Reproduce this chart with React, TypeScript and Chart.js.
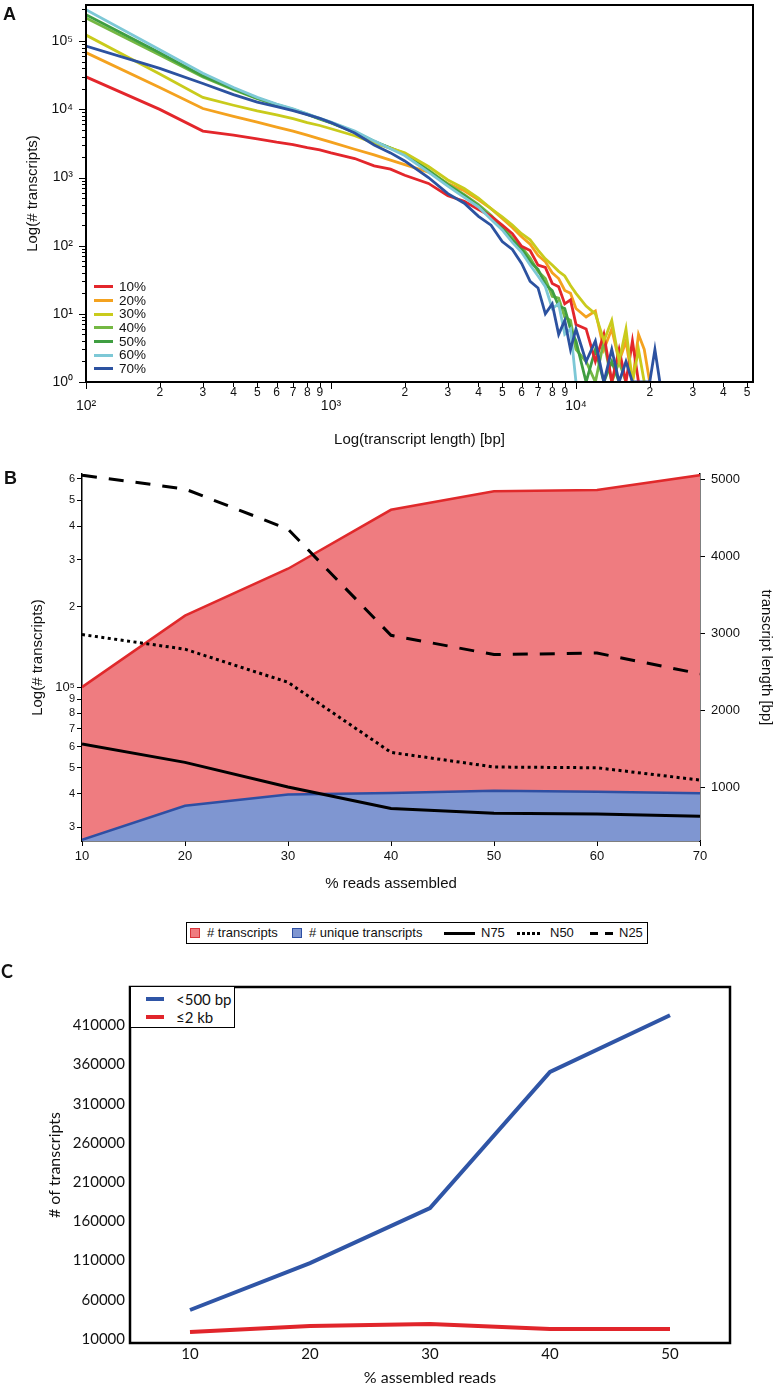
import { useEffect, useRef } from 'react';
import { Chart, registerables } from 'chart.js';

Chart.register(...registerables);

const SANS = "'Liberation Sans', Arial, Helvetica, sans-serif";
const HUM = "Lato, 'Open Sans', 'Liberation Sans', sans-serif";
const INK = '#111';

// ---------------- Panel A : length distribution ----------------
const lengthsBp = [
  100, 200, 300, 400, 500, 600, 700, 800, 900, 1000,
  1250, 1500, 1750, 2000, 2500, 3000, 3500, 4000, 4500, 5000,
  5500, 6000, 6500, 7000, 7500, 8000, 8500, 9000, 9500, 10000,
  11000, 12000, 13000, 14000, 15000, 16000, 17000, 18000, 19000, 20000,
  21000, 22000,
];
const count10 = [
  30000, 10000, 4800, 4200, 3700, 3300, 3050, 2750, 2550, 2300,
  1900, 1480, 1330, 1080, 820, 540, 450, 340, 270, 200,
  150, 98, 85, 52, 48, 28, 25, 14, 16, 7,
  6, 2, 5, 1, 3, 1, 4, 1, null, null,
  null, null,
];
const count20 = [
  68000, 21000, 10300, 7900, 6500, 5500, 4800, 4200, 3700, 3300,
  2600, 2150, 1800, 1550, 1200, 820, 640, 470, 350, 250,
  185, 135, 105, 72, 58, 40, 33, 22, 20, 12,
  9, 11, 3, 6, 2, 4, 1, 5, 3, 1,
  null, null,
];
const count30 = [
  123000, 33000, 15000, 11500, 9500, 8300, 7300, 6400, 5800, 5200,
  4100, 3200, 2700, 2300, 1450, 920, 690, 500, 350, 265,
  200, 150, 122, 86, 64, 52, 42, 36, 26, 20,
  13, 10, 4, 8, 2, 6, 1, 3, 1, null,
  null, null,
];
const count40 = [
  220000, 63000, 30000, 19500, 14300, 11600, 9800, 8400, 7200, 6300,
  4600, 3350, 2700, 2250, 1300, 800, 560, 400, 280, 190,
  130, 95, 66, 42, 33, 18, 17, 9, 8, 3,
  2, 1, 4, 1, 2, 1, null, null, null, null,
  null, null,
];
const count50 = [
  245000, 68000, 31000, 20000, 14600, 11800, 10000, 8500, 7300, 6400,
  4700, 3400, 2700, 2200, 1250, 780, 540, 380, 260, 180,
  120, 90, 58, 45, 27, 22, 13, 12, 6, 4,
  1, 3, 1, 2, 1, null, null, null, null, null,
  null, null,
];
const count60 = [
  290000, 75000, 34000, 21000, 15000, 12000, 10200, 8600, 7400, 6500,
  4800, 3450, 2650, 2100, 1200, 750, 510, 370, 245, 170,
  112, 80, 52, 36, 25, 12, 14, 5, 6, 1,
  null, null, null, null, null, null, null, null, null, null,
  null, null,
];
const count70 = [
  85000, 40000, 24000, 16500, 12800, 11000, 9600, 8400, 7400, 6400,
  4500, 3000, 2300, 1750, 1000, 580, 420, 270, 200, 115,
  88, 55, 30, 24, 10, 14, 5, 8, 3, 6,
  2, 4, 1, 3, 1, 2, 1, 1, 1, 1,
  3, 1,
];
const seriesA = [count10, count20, count30, count40, count50, count60, count70];
const namesA = ['10%', '20%', '30%', '40%', '50%', '60%', '70%'];
const colorsA = ['#e3262b', '#f4a21f', '#c9cb1c', '#74b843', '#3f9e41', '#7dc8d6', '#2c52a0'];
const layerA = [3, 6, 2, 5, 4, 1, 0];
const decadesAX = [2, 3, 4];
const decadesAY = [0, 1, 2, 3, 4, 5];

// ---------------- Panel B ----------------
const readsPct = [10, 20, 30, 40, 50, 60, 70];
const transcriptsB = [100000, 185000, 277000, 460000, 540000, 545000, 620000];
const uniqueB = [26900, 36000, 39700, 40200, 41000, 40600, 40100];
const n75 = [1560, 1320, 1000, 720, 660, 650, 620];
const n50 = [2980, 2790, 2360, 1450, 1260, 1250, 1090];
const n25 = [5050, 4870, 4350, 2970, 2720, 2740, 2470];
const bLeftTicks = [30000, 40000, 50000, 60000, 70000, 80000, 90000, 100000, 200000, 300000, 400000, 500000, 600000];
const bRightTicks = [1000, 2000, 3000, 4000, 5000];

// ---------------- Panel C ----------------
const assembledPct = [10, 20, 30, 40, 50];
const under500bp = [47000, 106800, 176900, 350800, 423000];
const upTo2kb = [18900, 26600, 29000, 22700, 22700];
const cYTicks = [10000, 60000, 110000, 160000, 210000, 260000, 310000, 360000, 410000];

const SUP = '⁰¹²³⁴⁵⁶⁷⁸⁹';
const expOf = (v: number) => Math.floor(Math.log10(v) + 1e-9);
const mantOf = (v: number) => Math.round(v / Math.pow(10, expOf(v)));
const logTicks = (decades: number[], min: number, max: number) => {
  const out: number[] = [];
  decades.forEach((e) => {
    for (let m = 1; m <= 9; m++) {
      const v = m * Math.pow(10, e);
      if (v >= min - 1e-9 && v <= max + 1e-9) out.push(v);
    }
  });
  return out;
};

const zeroPad = (s: any) => {
  s.paddingLeft = 0; s.paddingRight = 0; s.paddingTop = 0; s.paddingBottom = 0;
};
const fixWidth = (w: number) => (s: any) => { s.width = w; zeroPad(s); };
const fixHeight = (h: number) => (s: any) => { s.height = h; zeroPad(s); };
const setTicks = (vals: number[]) => (s: any) => { s.ticks = vals.map((v) => ({ value: v })); };

const framePlugin = {
  id: 'frame',
  afterDatasetsDraw(chart: any, _a: any, opts: any) {
    if (!opts || !opts.width) return;
    const { left, top, right, bottom } = chart.chartArea;
    const ctx = chart.ctx;
    ctx.save();
    ctx.strokeStyle = '#000';
    ctx.lineWidth = opts.width;
    ctx.strokeRect(left, top, right - left, bottom - top);
    ctx.restore();
  },
};

const tickMarksPlugin = {
  id: 'tickMarks',
  afterDraw(chart: any, _a: any, opts: any) {
    const axes = (opts && opts.axes) || [];
    const ctx = chart.ctx;
    ctx.save();
    ctx.strokeStyle = '#000';
    ctx.lineWidth = 1;
    axes.forEach((a: any) => {
      const scale = chart.scales[a.id];
      if (!scale) return;
      scale.ticks.forEach((t: any) => {
        const p = Math.round(scale.getPixelForValue(t.value)) + 0.5;
        const lg = Math.log10(t.value);
        const major = Math.abs(lg - Math.round(lg)) < 1e-9;
        const len = major ? a.major : a.minor;
        ctx.beginPath();
        if (a.side === 'bottom') {
          const y0 = chart.chartArea.bottom;
          ctx.moveTo(p, y0);
          ctx.lineTo(p, y0 + len);
        } else {
          const x0 = chart.chartArea.left;
          ctx.moveTo(x0, p);
          ctx.lineTo(x0 - len, p);
        }
        ctx.stroke();
      });
    });
    ctx.restore();
  },
};

function configA(): any {
  const xMin = 100, xMax = 52800, yMin = 1, yMax = 340000;
  return {
    type: 'line',
    data: {
      datasets: seriesA.map((s, k) => ({
        label: namesA[k],
        data: lengthsBp.map((x, i) => ({ x, y: s[i] })),
        borderColor: colorsA[k],
        backgroundColor: colorsA[k],
        borderWidth: 2.8,
        pointRadius: 0,
        tension: 0,
        fill: false,
        order: layerA[k],
      })),
    },
    options: {
      animation: false,
      responsive: false,
      devicePixelRatio: 1,
      layout: { padding: { left: 0, top: 5, right: 24, bottom: 0 } },
      plugins: {
        legend: { display: false },
        tooltip: { enabled: false },
        frame: { width: 2 },
        tickMarks: {
          axes: [
            { id: 'x', side: 'bottom', major: 7, minor: 5 },
            { id: 'y', side: 'left', major: 7, minor: 4 },
          ],
        },
      },
      scales: {
        x: {
          type: 'logarithmic',
          min: xMin,
          max: xMax,
          afterBuildTicks: setTicks(logTicks(decadesAX, xMin, xMax)),
          afterFit: fixHeight(78),
          grid: { display: false, drawTicks: false },
          border: { display: false },
          ticks: {
            autoSkip: false,
            maxRotation: 0,
            minRotation: 0,
            padding: 5,
            color: INK,
            font: (c: any) => {
              const v = c.tick ? c.tick.value : 2;
              return mantOf(v) === 1
                ? { family: SANS, size: 14, lineHeight: 0.9 }
                : { family: SANS, size: 12, lineHeight: 1.0 };
            },
            callback: (v: number) => (mantOf(v) === 1 ? ['', '10' + SUP[expOf(v)]] : String(mantOf(v))),
          },
          title: {
            display: true,
            text: 'Log(transcript length) [bp]',
            color: INK,
            font: { family: SANS, size: 15 },
            padding: { top: 0, bottom: 11 },
          },
        },
        y: {
          type: 'logarithmic',
          min: yMin,
          max: yMax,
          afterBuildTicks: setTicks(logTicks(decadesAY, yMin, yMax)),
          afterFit: fixWidth(86),
          grid: { display: false, drawTicks: false },
          border: { display: false },
          ticks: {
            autoSkip: false,
            padding: 13,
            color: INK,
            font: { family: SANS, size: 14 },
            callback: (v: number) => (mantOf(v) === 1 ? '10' + SUP[expOf(v)] : ''),
          },
          title: {
            display: true,
            text: 'Log(# transcripts)',
            color: INK,
            font: { family: SANS, size: 15 },
            padding: { top: 24, bottom: 0 },
          },
        },
      },
    },
    plugins: [framePlugin, tickMarksPlugin],
  };
}

function configB(): any {
  const pts = (arr: number[]) => readsPct.map((x, i) => ({ x, y: arr[i] }));
  const tickGrid = { display: true, drawOnChartArea: false, drawTicks: true, tickLength: 5, tickColor: '#000', tickWidth: 1 };
  const border = { display: true, color: '#000', width: 1.5 };
  return {
    type: 'line',
    data: {
      datasets: [
        { label: '# transcripts', data: pts(transcriptsB), yAxisID: 'y', borderColor: '#e0292b', backgroundColor: '#ef7c80', fill: 'start', borderWidth: 2.5, pointRadius: 0, order: 5 },
        { label: '# unique transcripts', data: pts(uniqueB), yAxisID: 'y', borderColor: '#2e4fa3', backgroundColor: '#7f96d1', fill: 'start', borderWidth: 2.5, pointRadius: 0, order: 4 },
        { label: 'N75', data: pts(n75), yAxisID: 'y1', borderColor: '#000', borderWidth: 3, pointRadius: 0, fill: false, order: 1 },
        { label: 'N50', data: pts(n50), yAxisID: 'y1', borderColor: '#000', borderWidth: 3, borderDash: [3, 3.5], pointRadius: 0, fill: false, order: 2 },
        { label: 'N25', data: pts(n25), yAxisID: 'y1', borderColor: '#000', borderWidth: 3, borderDash: [15, 12], pointRadius: 0, fill: false, order: 3 },
      ],
    },
    options: {
      animation: false,
      responsive: false,
      devicePixelRatio: 1,
      layout: { padding: { left: 0, top: 14, right: 0, bottom: 0 } },
      plugins: { legend: { display: false }, tooltip: { enabled: false } },
      scales: {
        x: {
          type: 'linear',
          min: 10,
          max: 70,
          afterBuildTicks: setTicks(readsPct),
          afterFit: fixHeight(59),
          grid: tickGrid,
          border,
          ticks: { autoSkip: false, maxRotation: 0, padding: 3, color: INK, font: { family: SANS, size: 13 }, callback: (v: number) => String(v) },
          title: { display: true, text: '% reads assembled', color: INK, font: { family: SANS, size: 15 }, padding: { top: 0, bottom: 7 } },
        },
        y: {
          type: 'logarithmic',
          position: 'left',
          min: 26600,
          max: 626000,
          afterBuildTicks: setTicks(bLeftTicks),
          afterFit: fixWidth(82),
          grid: tickGrid,
          border,
          ticks: {
            autoSkip: false,
            padding: 2,
            color: INK,
            font: (c: any) => ({ family: SANS, size: c.tick && mantOf(c.tick.value) === 1 ? 13 : 11 }),
            callback: (v: number) => (mantOf(v) === 1 ? '10' + SUP[expOf(v)] : String(mantOf(v))),
          },
          title: { display: true, text: 'Log(# transcripts)', color: INK, font: { family: SANS, size: 15 }, padding: { top: 29, bottom: 0 } },
        },
        y1: {
          type: 'linear',
          position: 'right',
          min: 299,
          max: 5065,
          afterBuildTicks: setTicks(bRightTicks),
          afterFit: fixWidth(77),
          grid: tickGrid,
          border,
          ticks: { autoSkip: false, padding: 6, color: INK, font: { family: SANS, size: 13 }, callback: (v: number) => String(v) },
          title: { display: true, text: 'transcript length [bp]', color: INK, font: { family: SANS, size: 15 }, padding: { top: 2, bottom: 0 } },
        },
      },
    },
  };
}

function configC(): any {
  const pts = (arr: number[]) => assembledPct.map((x, i) => ({ x, y: arr[i] }));
  return {
    type: 'line',
    data: {
      datasets: [
        { label: '<500 bp', data: pts(under500bp), borderColor: '#2f55a6', borderWidth: 4, pointRadius: 0, fill: false },
        { label: '≤2 kb', data: pts(upTo2kb), borderColor: '#e1252b', borderWidth: 4, pointRadius: 0, fill: false },
      ],
    },
    options: {
      animation: false,
      responsive: false,
      devicePixelRatio: 1,
      layout: { padding: { left: 0, top: 27, right: 47, bottom: 0 } },
      plugins: { legend: { display: false }, tooltip: { enabled: false }, frame: { width: 2.5 } },
      scales: {
        x: {
          type: 'linear',
          min: 5,
          max: 55,
          afterBuildTicks: setTicks(assembledPct),
          afterFit: fixHeight(44),
          grid: { display: false, drawTicks: false },
          border: { display: false },
          ticks: { autoSkip: false, maxRotation: 0, padding: 2, color: INK, font: { family: HUM, size: 15 }, callback: (v: number) => String(v) },
          title: { display: true, text: '% assembled reads', color: INK, font: { family: HUM, size: 16 }, padding: { top: 0, bottom: 0 } },
        },
        y: {
          type: 'linear',
          min: 4900,
          max: 459000,
          afterBuildTicks: setTicks(cYTicks),
          afterFit: fixWidth(130),
          grid: { display: false, drawTicks: false },
          border: { display: false },
          ticks: { autoSkip: false, padding: 5, color: INK, font: { family: HUM, size: 15 }, callback: (v: number) => String(v) },
          title: { display: true, text: '# of transcripts', color: INK, font: { family: HUM, size: 16 }, padding: { top: 45, bottom: 0 } },
        },
      },
    },
    plugins: [framePlugin],
  };
}

function ChartBox({ make, left, top, width, height }: { make: () => any; left: number; top: number; width: number; height: number }) {
  const ref = useRef<HTMLCanvasElement>(null);
  useEffect(() => {
    const chart = new Chart(ref.current as HTMLCanvasElement, make());
    return () => chart.destroy();
  }, []);
  return <canvas ref={ref} width={width} height={height} style={{ position: 'absolute', left, top, width, height }} />;
}

const abs = (left: number, top: number, extra: any = {}) => ({ position: 'absolute' as const, left, top, ...extra });

export default function App() {
  const rowA = 13.7;
  return (
    <div style={{ position: 'absolute', left: 0, top: 0, width: 777, height: 1387, background: '#fff', overflow: 'hidden', color: INK }}>
      <ChartBox make={configA} left={0} top={0} width={777} height={460} />
      <ChartBox make={configB} left={0} top={460} width={777} height={440} />
      <ChartBox make={configC} left={0} top={960} width={777} height={427} />

      <div style={abs(3, 4, { font: `bold 18px ${SANS}`, lineHeight: '20px' })}>A</div>
      <div style={abs(4, 468, { font: `bold 18px ${SANS}`, lineHeight: '20px' })}>B</div>
      <div style={abs(1, 961, { font: `bold 18px ${HUM}`, lineHeight: '20px' })}>C</div>

      {/* Panel A legend */}
      <div style={abs(94, 280, { font: `13.5px ${SANS}` })}>
        {namesA.map((n, k) => (
          <div key={n} style={{ display: 'flex', alignItems: 'center', height: rowA }}>
            <div style={{ width: 19, height: 3, background: colorsA[k], marginRight: 6 }} />
            <span style={{ lineHeight: `${rowA}px` }}>{n}</span>
          </div>
        ))}
      </div>

      {/* Panel B legend */}
      <div style={abs(186, 922, { width: 462, height: 22, border: '1px solid #000', boxSizing: 'border-box', background: '#fff' })} />
      <div style={abs(190, 928, { width: 10, height: 10, background: '#ef7c80', border: '1px solid #d8343a', boxSizing: 'border-box' })} />
      <div style={abs(207, 925, { font: `13px ${SANS}`, lineHeight: '16px' })}># transcripts</div>
      <div style={abs(292, 928, { width: 10, height: 10, background: '#7f96d1', border: '1px solid #2e4fa3', boxSizing: 'border-box' })} />
      <div style={abs(309, 925, { font: `13px ${SANS}`, lineHeight: '16px' })}># unique transcripts</div>
      <div style={abs(444, 932, { width: 31, height: 3, background: '#000' })} />
      <div style={abs(481, 925, { font: `13px ${SANS}`, lineHeight: '16px' })}>N75</div>
      <div style={abs(517, 932, { width: 23, height: 3, background: 'repeating-linear-gradient(to right, #000 0 3px, transparent 3px 5px)' })} />
      <div style={abs(550, 925, { font: `13px ${SANS}`, lineHeight: '16px' })}>N50</div>
      <div style={abs(590, 932, { width: 23, height: 3, background: 'repeating-linear-gradient(to right, #000 0 8px, transparent 8px 15px)' })} />
      <div style={abs(619, 925, { font: `13px ${SANS}`, lineHeight: '16px' })}>N25</div>

      {/* Panel C legend */}
      <div style={abs(130, 986, { width: 105, height: 42, border: '1.5px solid #000', boxSizing: 'border-box', background: '#fff' })} />
      <div style={abs(146, 997, { width: 18, height: 4, background: '#2f55a6' })} />
      <div style={abs(176, 990, { font: `15px ${HUM}`, lineHeight: '18px' })}>&lt;500 bp</div>
      <div style={abs(146, 1015, { width: 18, height: 4, background: '#e1252b' })} />
      <div style={abs(176, 1008, { font: `15px ${HUM}`, lineHeight: '18px' })}>≤2 kb</div>
    </div>
  );
}
